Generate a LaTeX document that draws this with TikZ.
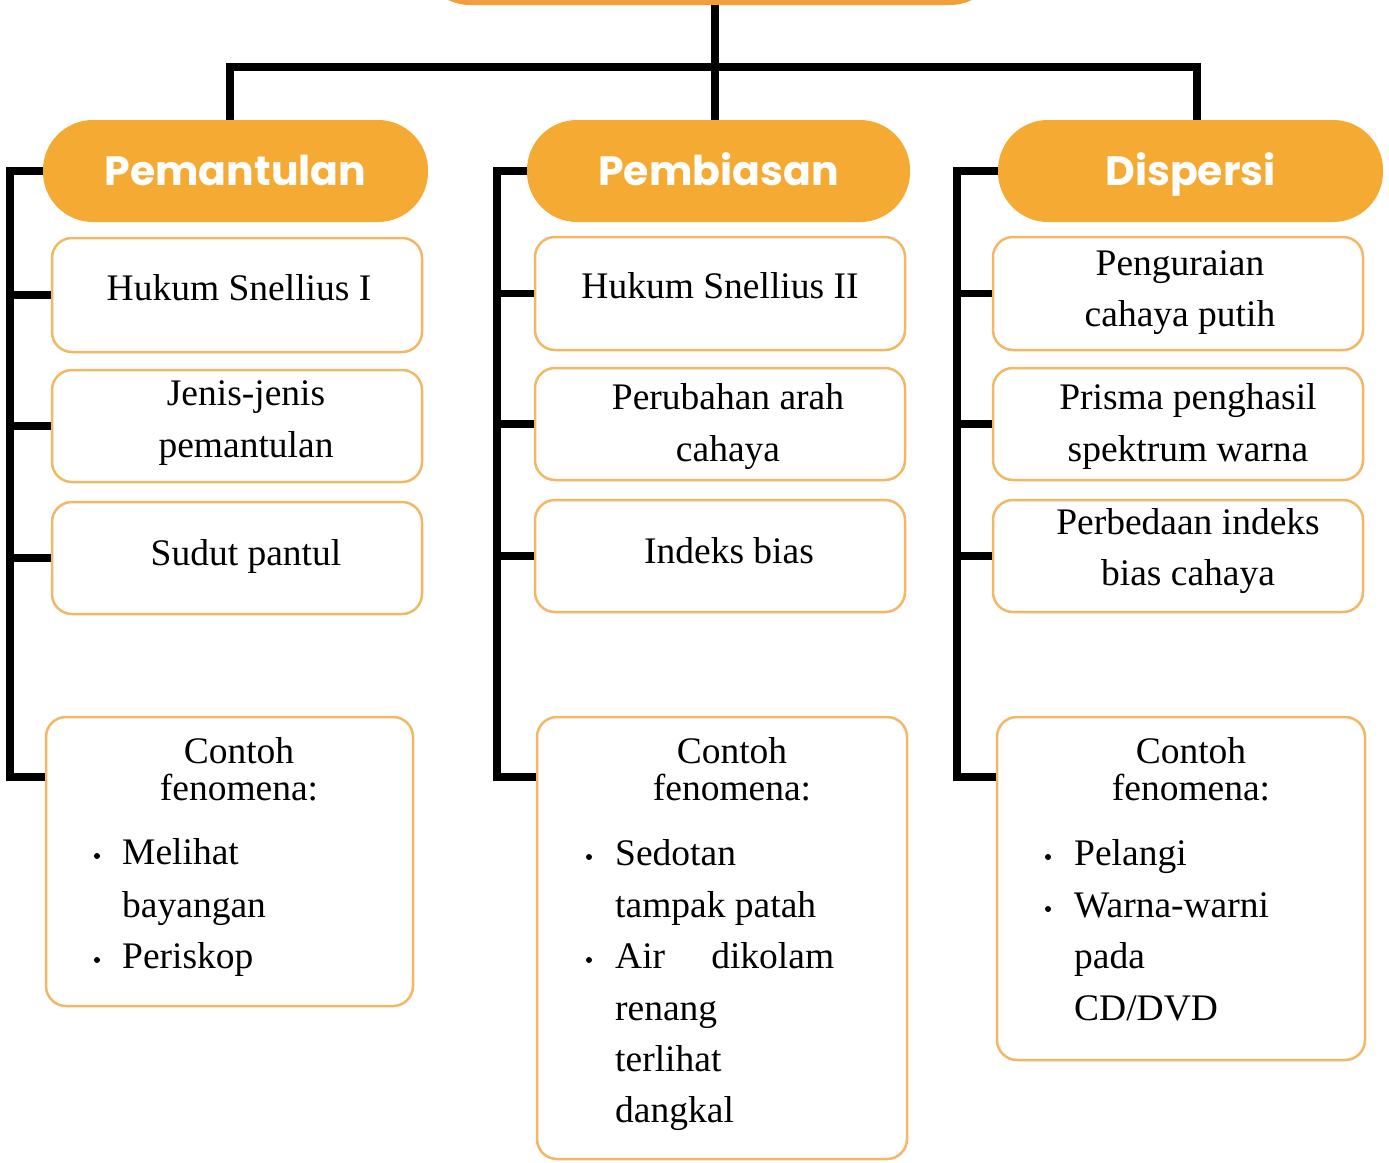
\documentclass[tikz,border=0pt]{standalone}
\usepackage{fontspec}
\setmainfont{Liberation Serif}
\newfontfamily\hfont{Poppins}
\definecolor{hdr}{HTML}{F5AB33}
\definecolor{topc}{HTML}{F39D3B}
\definecolor{bord}{HTML}{F2B866}
\tikzset{
  hdrbox/.style={fill=hdr, rounded corners=50pt, minimum width=385pt, minimum height=102pt,
    inner sep=0pt, text=white, text height=29pt, text depth=0pt,
    font=\hfont\bfseries\fontsize{41}{44}\selectfont},
  itembox/.style={draw=bord, line width=2.5pt, rounded corners=20pt, fill=white, inner sep=0pt},
  txt/.style={font=\fontsize{37.5}{51}\selectfont, inner sep=0pt, anchor=base},
  ltxt/.style={txt, anchor=base west},
  dot/.style={circle, fill=black, inner sep=0pt, minimum size=6pt},
  conn/.style={line width=7.5pt, line join=miter, draw=black}
}
\begin{document}
\begin{tikzpicture}[x=1pt, y=-1pt]
\useasboundingbox (0,0) rectangle (1389,1162);
\fill[white] (0,0) rectangle (1389,1162);

% top (cut-off) node
\node[fill=topc, rounded corners=50pt, minimum width=580pt, minimum height=100pt, inner sep=0pt] (T) at (710,-45) {};

% headers
\node[hdrbox] (P) at (235.5,171) {Pemantulan};
\node[hdrbox, minimum width=383pt] (B) at (718.5,171) {Pembiasan};
\node[hdrbox] (D) at (1190.5,171) {Dispersi};

% tree connectors
\coordinate (hb) at (715,67);
\draw[conn] ([xshift=-3.5pt]B.north |- T.south) -- ([xshift=-3.5pt]B.north);
\draw[conn] ([xshift=-5.5pt]P.north) |- (hb) -| ([xshift=6.5pt]D.north);

% column 1 boxes
\node[itembox, minimum width=370pt, minimum height=114pt] (A1) at (237,295) {};
\node[itembox, minimum width=370pt, minimum height=112pt] (A2) at (237,426) {};
\node[itembox, minimum width=370pt, minimum height=112pt] (A3) at (237,558) {};
\node[itembox, minimum width=367pt, minimum height=289pt] (A4) at (229.5,861.5) {};

% column 2 boxes
\node[itembox, minimum width=370pt, minimum height=113pt] (B1) at (720,293.5) {};
\node[itembox, minimum width=370pt, minimum height=112pt] (B2) at (720,424) {};
\node[itembox, minimum width=370pt, minimum height=112pt] (B3) at (720,556) {};
\node[itembox, minimum width=370pt, minimum height=442pt] (B4) at (722,938) {};

% column 3 boxes
\node[itembox, minimum width=370pt, minimum height=113pt] (C1) at (1178,293.5) {};
\node[itembox, minimum width=370pt, minimum height=112pt] (C2) at (1178,424) {};
\node[itembox, minimum width=370pt, minimum height=112pt] (C3) at (1178,556) {};
\node[itembox, minimum width=368pt, minimum height=343pt] (C4) at (1181,888.5) {};

% brackets
\coordinate (s1) at (10,777);
\coordinate (s2) at (497,777);
\coordinate (s3) at (957,777);
\draw[conn] (P.west) -| (s1) -- (s1 -| A4.west);
\draw[conn] (s1 |- A1.west) -- (A1.west);
\draw[conn] (s1 |- A2.west) -- (A2.west);
\draw[conn] (s1 |- A3.west) -- (A3.west);
\draw[conn] (B.west) -| (s2) -- (s2 -| B4.west);
\draw[conn] (s2 |- B1.west) -- (B1.west);
\draw[conn] (s2 |- B2.west) -- (B2.west);
\draw[conn] (s2 |- B3.west) -- (B3.west);
\draw[conn] (D.west) -| (s3) -- (s3 -| C4.west);
\draw[conn] (s3 |- C1.west) -- (C1.west);
\draw[conn] (s3 |- C2.west) -- (C2.west);
\draw[conn] (s3 |- C3.west) -- (C3.west);

% column 1 texts
\node[txt] (A1t) at (239,300) {Hukum Snellius I};
\node[txt] (A2t) at (246,405) {Jenis-jenis};
\node[txt] (A2u) at (246,457) {pemantulan};
\node[txt] (A3t) at (246,565) {Sudut pantul};
\node[txt] (A4t) at (239,763) {Contoh};
\node[txt] (A4u) at (239,800) {fenomena:};
\node[dot] (A4d1) at (97,856) {};
\node[ltxt] (A4a) at (122,864) {Melihat};
\node[ltxt] (A4b) at (122,917) {bayangan};
\node[dot] (A4d2) at (97,960) {};
\node[ltxt] (A4c) at (122,968) {Periskop};

% column 2 texts
\node[txt] (B1t) at (720,298) {Hukum Snellius II};
\node[txt] (B2t) at (728,409) {Perubahan arah};
\node[txt] (B2u) at (728,461) {cahaya};
\node[txt] (B3t) at (729,563) {Indeks bias};
\node[txt] (B4t) at (732,763) {Contoh};
\node[txt] (B4u) at (732,800) {fenomena:};
\node[dot] (B4d1) at (589,857) {};
\node[ltxt] (B4a) at (615,865) {Sedotan};
\node[ltxt] (B4b) at (615,917) {tampak patah};
\node[dot] (B4d2) at (589,960) {};
\node[ltxt] (B4c) at (615,968) {\makebox[219pt][s]{Air dikolam}};
\node[ltxt] (B4e) at (615,1020) {renang};
\node[ltxt] (B4f) at (615,1071) {terlihat};
\node[ltxt] (B4g) at (615,1122) {dangkal};

% column 3 texts
\node[txt] (C1t) at (1180,275) {Penguraian};
\node[txt] (C1u) at (1180,326) {cahaya putih};
\node[txt] (C2t) at (1188,409) {Prisma penghasil};
\node[txt] (C2u) at (1188,461) {spektrum warna};
\node[txt] (C3t) at (1188,534) {Perbedaan indeks};
\node[txt] (C3u) at (1188,585) {bias cahaya};
\node[txt] (C4t) at (1191,763) {Contoh};
\node[txt] (C4u) at (1191,800) {fenomena:};
\node[dot] (C4d1) at (1048,857) {};
\node[ltxt] (C4a) at (1074,865) {Pelangi};
\node[dot] (C4d2) at (1048,909) {};
\node[ltxt] (C4b) at (1074,917) {Warna-warni};
\node[ltxt] (C4c) at (1074,968) {pada};
\node[ltxt] (C4e) at (1074,1020) {CD/DVD};
\end{tikzpicture}
\end{document}
